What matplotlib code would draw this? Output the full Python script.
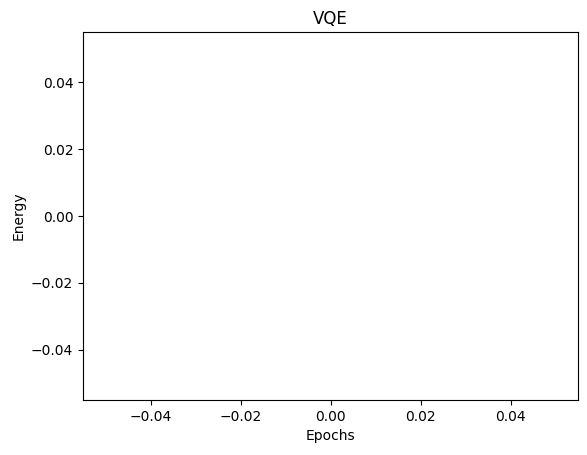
import matplotlib
matplotlib.use("Agg")
import matplotlib.pyplot as plt

# no data was recorded, so the curve is empty
epochs = []
energy = []

fig = plt.figure(figsize=(5.87, 4.55), dpi=100)
ax = fig.add_subplot(111)
fig.subplots_adjust(left=83/587, right=578/587, top=1-32/455, bottom=1-400/455)

ax.plot(epochs, energy)
ax.set_title("VQE")
ax.set_xlabel("Epochs")
ax.set_ylabel("Energy")

fig.savefig("out.png", dpi=100)
